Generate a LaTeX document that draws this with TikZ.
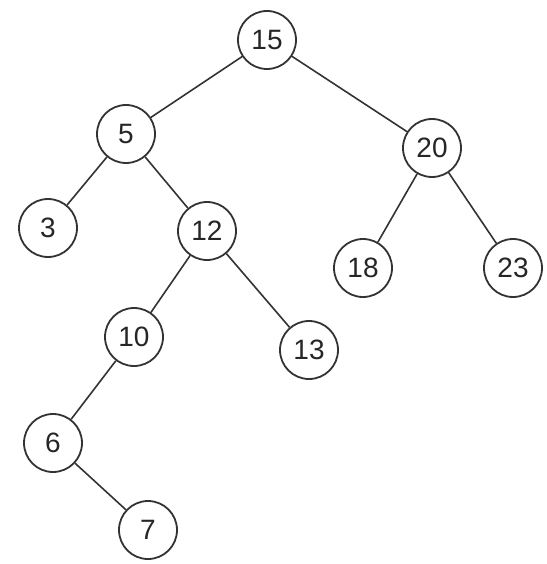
\documentclass[tikz,border=0pt]{standalone}
\usepackage{fontspec}
\setmainfont{Liberation Sans}
\begin{document}
\begin{tikzpicture}[x=1pt,y=-1pt,
  tnode/.style={circle,draw=black!80,line width=1.8pt,minimum size=58pt,inner sep=0pt,font=\fontsize{28}{28}\selectfont,text=black!85,fill=white},
  edge/.style={draw=black!80,line width=1.6pt}]
\useasboundingbox (0,0) rectangle (546,564);
\node[tnode] (n15) at (267,40) {15};
\node[tnode] (n5) at (126,134) {5};
\node[tnode] (n20) at (432,148) {20};
\node[tnode] (n3) at (48,228) {3};
\node[tnode] (n12) at (207,231) {12};
\node[tnode] (n18) at (363,268) {18};
\node[tnode] (n23) at (513,268) {23};
\node[tnode] (n10) at (134,337) {10};
\node[tnode] (n13) at (309,350) {13};
\node[tnode] (n6) at (53,443) {6};
\node[tnode] (n7) at (148,530) {7};
\draw[edge] (n15) -- (n5);
\draw[edge] (n15) -- (n20);
\draw[edge] (n5) -- (n3);
\draw[edge] (n5) -- (n12);
\draw[edge] (n20) -- (n18);
\draw[edge] (n20) -- (n23);
\draw[edge] (n12) -- (n10);
\draw[edge] (n12) -- (n13);
\draw[edge] (n10) -- (n6);
\draw[edge] (n6) -- (n7);
\end{tikzpicture}
\end{document}
